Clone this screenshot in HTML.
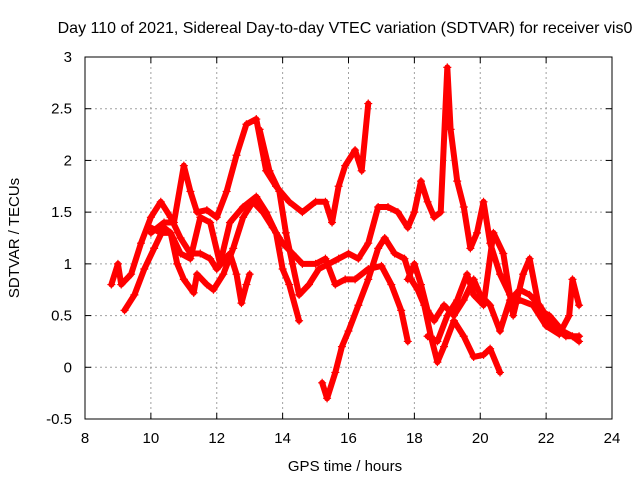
<!DOCTYPE html>
<html><head><meta charset="utf-8"><style>
html,body{margin:0;padding:0;background:#fff;}
svg{display:block;font-family:"Liberation Sans",sans-serif;}
</style></head><body>
<svg id="chart" width="640" height="480">
<text x="345" y="33" font-size="16" text-anchor="middle" fill="#000">Day 110 of 2021, Sidereal Day-to-day VTEC variation (SDTVAR) for receiver vis0</text>
<text x="345" y="471" font-size="15" text-anchor="middle" fill="#000">GPS time / hours</text>
<text transform="translate(19,238) rotate(-90)" font-size="15" text-anchor="middle" fill="#000">SDTVAR / TECUs</text>
<g id="grid"></g>
<g id="ticks"></g>
<g id="marks"></g>
<rect x="85" y="57" width="527" height="362" fill="none" stroke="#000" stroke-width="1"/>
</svg>
<script>
const xTicks=[8,10,12,14,16,18,20,22,24];
const yTicks=[-0.5,0,0.5,1,1.5,2,2.5,3];
const yTickLabels=["-0.5","0","0.5","1","1.5","2","2.5","3"];
const s1=[[8.8,0.8],[9.0,1.0],[9.1,0.8],[9.4,0.9],[9.7,1.2],[10.0,1.45],[10.3,1.6],[10.6,1.45],[10.9,1.25],[11.2,1.1],[11.5,1.1],[11.8,1.05],[12.0,0.95],[12.4,1.1],[12.6,0.9],[12.75,0.62],[12.9,0.8],[13.0,0.9]];
const s2=[[9.2,0.55],[9.5,0.7],[9.8,0.95],[10.1,1.15],[10.4,1.35],[10.6,1.3],[10.8,1.0],[11.0,0.85],[11.3,0.72],[11.4,0.9],[11.7,0.8],[11.9,0.75],[12.2,0.9],[12.5,1.15],[12.8,1.45],[13.1,1.6],[13.4,1.5],[13.7,1.35],[14.0,1.2],[14.3,1.1],[14.6,1.0],[15.0,1.0],[15.3,1.05],[15.6,0.8],[15.9,0.85],[16.2,0.85],[16.6,0.95],[17.0,0.98],[17.3,0.8],[17.6,0.55],[17.8,0.25]];
const s3=[[10.0,1.3],[10.4,1.4],[10.7,1.4],[11.0,1.95],[11.2,1.7],[11.4,1.5],[11.7,1.52],[12.0,1.45],[12.3,1.7],[12.6,2.05],[12.9,2.35],[13.2,2.4],[13.5,1.9],[13.8,1.75],[14.2,1.6],[14.6,1.5],[15.0,1.6],[15.3,1.6],[15.5,1.4],[15.7,1.75],[15.9,1.95],[16.2,2.1],[16.4,1.9],[16.6,2.55]];
const s4=[[10.0,1.35],[10.3,1.3],[10.6,1.3],[10.9,1.1],[11.2,1.05],[11.5,1.45],[11.8,1.4],[12.1,1.0],[12.4,1.4],[12.8,1.55],[13.2,1.65],[13.5,1.5],[13.8,1.3],[14.0,0.95],[14.2,0.8],[14.5,0.45]];
const s5=[[13.3,2.3],[13.6,1.9],[13.9,1.7],[14.1,1.3],[14.3,1.0],[14.5,0.7],[14.8,0.8],[15.1,0.95],[15.4,1.0],[15.7,1.05],[16.0,1.1],[16.3,1.05],[16.6,1.2],[16.9,1.55],[17.2,1.55],[17.5,1.5],[17.8,1.35],[18.0,1.5],[18.2,1.8],[18.4,1.6],[18.6,1.45],[18.8,1.5],[19.0,2.9],[19.1,2.3],[19.3,1.8],[19.5,1.55],[19.7,1.15],[19.9,1.3],[20.1,1.6],[20.3,1.2],[20.6,0.9],[20.9,0.7],[21.2,0.65],[21.6,0.6],[22.0,0.4],[22.4,0.32],[22.7,0.5],[22.8,0.85],[23.0,0.6]];
const s6=[[15.2,-0.15],[15.35,-0.3],[15.6,-0.05],[15.8,0.2],[16.0,0.35],[16.3,0.6],[16.6,0.85],[16.9,1.15],[17.1,1.25],[17.4,1.1],[17.7,1.05],[17.9,0.85],[18.1,0.75],[18.3,0.6],[18.5,0.3],[18.7,0.05],[18.9,0.2],[19.2,0.45],[19.5,0.3],[19.8,0.1],[20.1,0.12],[20.3,0.18],[20.6,-0.05]];
const s7=[[17.8,0.85],[18.0,1.0],[18.2,0.8],[18.4,0.55],[18.6,0.45],[18.9,0.6],[19.2,0.5],[19.5,0.65],[19.8,0.85],[20.0,0.7],[20.3,0.6],[20.6,0.35],[20.9,0.65],[21.2,0.75],[21.5,0.7],[21.8,0.6],[22.2,0.4],[22.6,0.3],[23.0,0.3]];
const s8=[[18.4,0.3],[18.7,0.25],[19.0,0.5],[19.3,0.65],[19.6,0.9],[19.8,0.7],[20.1,0.6],[20.4,1.3],[20.7,1.1],[21.0,0.5],[21.3,0.9],[21.5,1.05],[21.8,0.55],[22.1,0.5],[22.5,0.35],[22.8,0.3],[23.0,0.25]];
const seriesList=[s1,s2,s3,s4,s5,s6,s7,s8];
const X0=85,X1=612,Y0=419,Y1=57;
const xs=v=>X0+(v-8)/(24-8)*(X1-X0);
const ys=v=>Y0-(v+0.5)/(3.5)*(Y0-Y1);
const NS="http://www.w3.org/2000/svg";
const grid=document.getElementById('grid'),ticks=document.getElementById('ticks'),marks=document.getElementById('marks');
function mk(t,a,p){const e=document.createElementNS(NS,t);for(const k in a)e.setAttribute(k,a[k]);p.appendChild(e);return e;}
xTicks.forEach((t,i)=>{const x=xs(t);
 if(i>0&&i<xTicks.length-1){const g=mk('line',{x1:x,x2:x,y1:Y1,y2:Y0,stroke:'#a0a0a0','stroke-dasharray':'2,3'},grid);}
 mk('line',{x1:x,x2:x,y1:Y0,y2:Y0-6,stroke:'#000'},ticks);mk('line',{x1:x,x2:x,y1:Y1,y2:Y1+6,stroke:'#000'},ticks);
 const l=mk('text',{x:x,y:443,'font-size':15,'text-anchor':'middle'},ticks);l.textContent=String(t);
 });
yTicks.forEach((t,i)=>{const y=ys(t);
 if(i>0&&i<yTicks.length-1){const g=mk('line',{x1:X0,x2:X1,y1:y,y2:y,stroke:'#a0a0a0','stroke-dasharray':'2,3'},grid);}
 mk('line',{x1:X0,x2:X0+6,y1:y,y2:y,stroke:'#000'},ticks);mk('line',{x1:X1,x2:X1-6,y1:y,y2:y,stroke:'#000'},ticks);
 const l=mk('text',{x:72,y:y+5,'font-size':15,'text-anchor':'end'},ticks);l.textContent=yTickLabels[i];
 });
seriesList.forEach((s,si)=>{
 const pl=mk('polyline',{points:s.map(p=>xs(p[0])+','+ys(p[1])).join(' '),fill:'none',stroke:'#ff0000','stroke-width':6,'stroke-linejoin':'round','stroke-linecap':'round'},marks);
 
 
 s.forEach(p=>{const x=xs(p[0]),y=ys(p[1]);
  const m=mk('path',{d:`M${x-4},${y}H${x+4}M${x},${y-4}V${y+4}`,stroke:'#ff0000','stroke-width':1.2},marks);
  
  });
});
</script>
</body></html>
